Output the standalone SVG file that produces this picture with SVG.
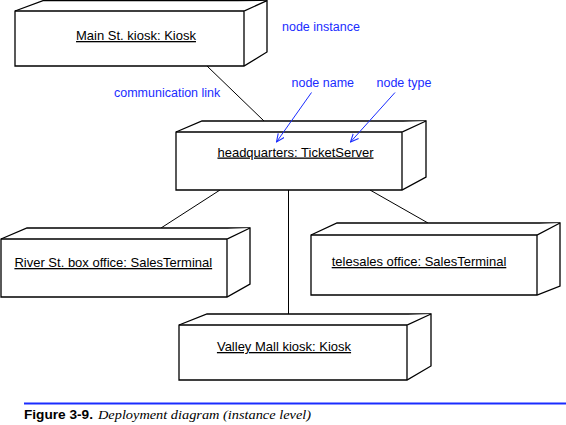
<svg xmlns="http://www.w3.org/2000/svg" width="566" height="425" viewBox="0 0 566 425">
<style>
.box{fill:#fff;stroke:#000;stroke-width:1.3;stroke-linejoin:miter}
.edge{fill:none;stroke:#000;stroke-width:1}
.lbl{font-family:"Liberation Sans",Arial,sans-serif;font-size:13px;fill:#000;text-anchor:middle;text-decoration:underline}
.note{font-family:"Liberation Sans",Arial,sans-serif;font-size:12.5px;fill:#1a2cff}
.ptr{fill:none;stroke:#1a2cff;stroke-width:1}
</style>
<defs>
<marker id="open" viewBox="0 0 10 10" refX="9" refY="5" markerWidth="9" markerHeight="9" markerUnits="userSpaceOnUse" orient="auto">
<path d="M0,1 L9,5 L0,9" fill="none" stroke="#1a2cff" stroke-width="1.2"/>
</marker>
</defs>
<rect width="566" height="425" fill="#fff"/>
<g id="connectors">
<line class="edge" x1="207" y1="66" x2="264" y2="121"/>
<line class="edge" x1="220" y1="190" x2="161" y2="228"/>
<line class="edge" x1="288.5" y1="190" x2="288.5" y2="314"/>
<line class="edge" x1="370" y1="190" x2="428" y2="223"/>
</g>
<g id="main-st-kiosk">
<path class="box" d="M15,11 L43,0.7 L267,0.7 L267,52 L244,66 L15,66 Z"/>
<path class="box" d="M15,11 L244,11 L267,0.7 M244,11 L244,66"/>
<text class="lbl" x="136" y="40">Main St. kiosk: Kiosk</text>
</g>
<g id="headquarters">
<path class="box" d="M176,132 L202,121 L426,121 L426,177 L402,190 L176,190 Z"/>
<path class="box" d="M176,132 L402,132 L426,121 M402,132 L402,190"/>
<text class="lbl" x="295.5" y="156.5">headquarters: TicketServer</text>
</g>
<g id="river-st">
<path class="box" d="M1,239 L27,228 L250,228 L250,284 L227,297 L1,297 Z"/>
<path class="box" d="M1,239 L227,239 L250,228 M227,239 L227,297"/>
<text class="lbl" x="113.3" y="267">River St. box office: SalesTerminal</text>
</g>
<g id="telesales">
<path class="box" d="M311,235 L337,223 L560,223 L560,286 L537,295 L311,295 Z"/>
<path class="box" d="M311,235 L537,235 L560,223 M537,235 L537,295"/>
<text class="lbl" x="419" y="266">telesales office: SalesTerminal</text>
</g>
<g id="valley-mall">
<path class="box" d="M179,325 L207,314 L431,314 L431,366 L407,380 L179,380 Z"/>
<path class="box" d="M179,325 L407,325 L431,314 M407,325 L407,380"/>
<text class="lbl" x="284" y="351">Valley Mall kiosk: Kiosk</text>
</g>
<g id="annotations">
<text class="note" x="282" y="31">node instance</text>
<text class="note" x="114" y="97">communication link</text>
<text class="note" x="291.5" y="87">node name</text>
<text class="note" x="376.5" y="87">node type</text>
<line class="ptr" x1="311.5" y1="92.5" x2="276.5" y2="142" marker-end="url(#open)"/>
<line class="ptr" x1="395" y1="92.5" x2="350.5" y2="142" marker-end="url(#open)"/>
</g>
<g id="caption">
<line x1="24" y1="403.5" x2="566" y2="403.5" stroke="#1a2cff" stroke-width="2"/>
<text x="24" y="419" font-family="Liberation Sans,Arial,sans-serif" font-weight="bold" font-size="12.5" textLength="69" lengthAdjust="spacingAndGlyphs">Figure 3-9.</text>
<text x="98" y="419" font-family="Liberation Serif,Times New Roman,serif" font-style="italic" font-size="13.5" textLength="213" lengthAdjust="spacingAndGlyphs">Deployment diagram (instance level)</text>
</g>
</svg>
